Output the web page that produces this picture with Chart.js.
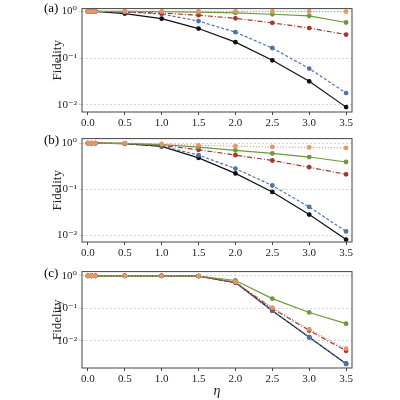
<!DOCTYPE html>
<html><head><meta charset="utf-8">
<script src="https://cdn.jsdelivr.net/npm/chart.js@4/dist/chart.umd.min.js"></script>
<style>body{margin:0;background:#fff;width:400px;height:400px;position:relative;overflow:hidden}
canvas{position:absolute;left:0}
.lab{position:absolute;left:44px;font:13px "Liberation Serif",serif}</style></head><body>
<canvas id="ca" style="top:0" width="400" height="128"></canvas>
<canvas id="cb" style="top:130px" width="400" height="128"></canvas>
<canvas id="cc" style="top:263px" width="400" height="137"></canvas>
<div class="lab" style="top:0px">(a)</div>
<div class="lab" style="top:132px">(b)</div>
<div class="lab" style="top:265px">(c)</div>
<script>
const etas=[0,0.05,0.1,0.5,1.0,1.5,2.0,2.5,3.0,3.5];
const xTicks=[0,0.5,1,1.5,2,2.5,3,3.5];
const yTicks=[1,0.1,0.01];
const aBlack=[1,1,1,0.9,0.7,0.43,0.22,0.09,0.032,0.009];
const aBlue=[1,1,1,0.97,0.88,0.62,0.36,0.165,0.06,0.018];
const aRed=[1,1,1,0.98,0.92,0.83,0.71,0.57,0.44,0.32];
const aGreen=[1,1,1,1,0.99,0.97,0.93,0.87,0.8,0.58];
const aOrange=[1,1,1,1,1,1,1,1,1,0.99];
const bBlack=[1,1,1,0.98,0.85,0.48,0.22,0.087,0.028,0.008];
const bBlue=[1,1,1,0.98,0.87,0.55,0.28,0.12,0.041,0.012];
const bRed=[1,1,1,0.99,0.9,0.72,0.55,0.42,0.3,0.21];
const bGreen=[1,1,1,0.99,0.93,0.82,0.7,0.6,0.5,0.39];
const bOrange=[1,1,1,1,0.97,0.9,0.86,0.83,0.81,0.79];
const cBlack=[1,1,1,1,1,0.98,0.62,0.085,0.013,0.002];
const cBlue=[1,1,1,1,1,0.98,0.62,0.085,0.013,0.002];
const cRed=[1,1,1,1,1,0.98,0.63,0.1,0.021,0.005];
const cOrange=[1,1,1,1,1,0.98,0.65,0.105,0.023,0.0058];
const cGreen=[1,1,1,1,1,0.99,0.72,0.2,0.075,0.034];
const SERIF='"Liberation Serif","DejaVu Serif",serif';
function ds(vals,color,dash){return{data:vals.map((v,i)=>({x:etas[i],y:v})),borderColor:color,backgroundColor:color,borderWidth:1.2,borderDash:dash,pointRadius:1.8,pointHoverRadius:0};}
const frame={id:'frame',afterDraw(c){const a=c.chartArea,x=c.ctx;x.save();x.strokeStyle='#444';x.lineWidth=1;x.strokeRect(a.left,a.top,a.right-a.left,a.bottom-a.top);x.restore();}};
const sup={'0':'⁰','1':'¹','2':'²','-':'⁻'};
function make(id,sets,ymin,ymax,padTop,xh,title){
 new Chart(document.getElementById(id),{type:'line',
 data:{datasets:[ds(sets[4],'#e8956a',[1,2]),ds(sets[3],'#6a9a3a',[]),ds(sets[2],'#a8352b',[5,2,1,2]),ds(sets[1],'#4c72b0',[3,2]),ds(sets[0],'#111',[])]},
 options:{responsive:false,animation:false,events:[],layout:{padding:{top:padTop,right:48,left:50,bottom:0}},
 plugins:{legend:{display:false},tooltip:{enabled:false}},
 scales:{
  x:{type:'linear',min:-0.08,max:3.58,afterBuildTicks(s){s.ticks=xTicks.map(v=>({value:v}));},
   afterFit(s){s.height=xh;},
   ticks:{font:{family:SERIF,size:11},color:'#222',maxRotation:0,padding:2,callback:v=>v.toFixed(1)},
   grid:{drawOnChartArea:false,tickLength:3,color:'#444'},border:{display:false},
   title:{display:!!title,text:title||'',font:{family:SERIF,size:14,style:'italic'},padding:{top:0,bottom:0},color:'#222'}},
  y:{type:'logarithmic',min:ymin,max:ymax,afterBuildTicks(s){s.ticks=yTicks.filter(v=>v>=ymin&&v<=ymax).map(v=>({value:v}));},
   afterFit(s){s.width=32;},
   ticks:{font:{family:SERIF,size:11},color:'#222',padding:2,callback:v=>'10'+String(Math.round(Math.log10(v))).split('').map(ch=>sup[ch]).join('')},
   grid:{color:'#ccc',tickLength:3,lineWidth:0.8},border:{display:false,dash:[2,2]},
   title:{display:true,text:'Fidelity',font:{family:SERIF,size:13},color:'#222',padding:{top:0,bottom:0}}}
 }},plugins:[frame]});
}
make('ca',[aBlack,aBlue,aRed,aGreen,aOrange],Math.pow(10,-2.15),Math.pow(10,0.06),2,16);
make('cb',[bBlack,bBlue,bRed,bGreen,bOrange],Math.pow(10,-2.15),Math.pow(10,0.1),4,16);
make('cc',[cBlack,cBlue,cRed,cGreen,cOrange],Math.pow(10,-2.83),Math.pow(10,0.13),4,32,'η');
</script></body></html>
